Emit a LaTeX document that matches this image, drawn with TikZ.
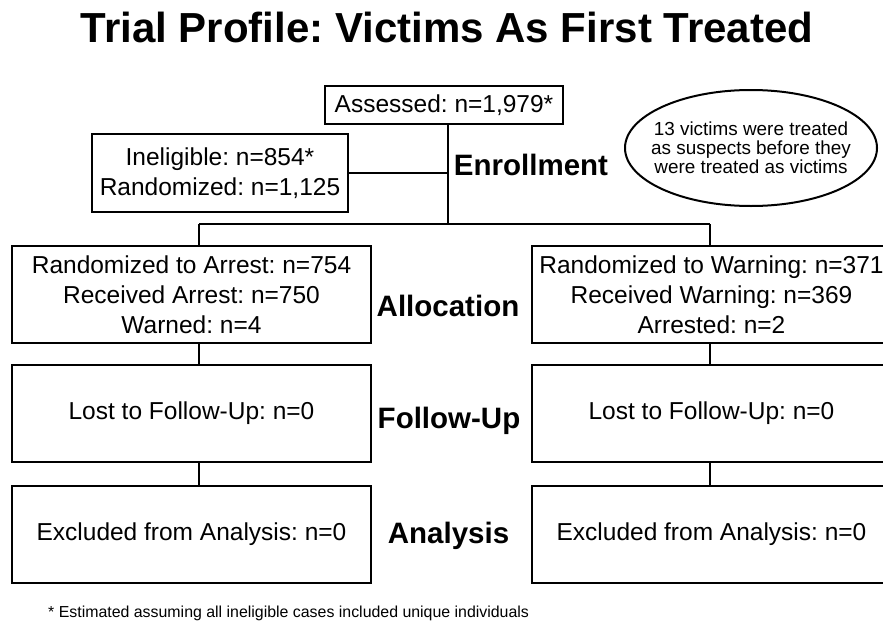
\documentclass[tikz,border=0pt]{standalone}
\usepackage{fontspec}
\setmainfont{Liberation Sans}
\usepackage{xcolor,tikz}
\usetikzlibrary{calc,positioning}
\tikzset{>=stealth}
\tikzset{box/.style={draw, line width=2pt, minimum width=359pt, minimum height=97pt, inner sep=0pt, align=center, font=\fontsize{24.5}{30}\selectfont},
  stage/.style={anchor=base, inner sep=0pt, font=\fontsize{29.5}{32}\selectfont\bfseries},
  link/.style={line width=1.5pt}}
\frenchspacing

\begin{document}
\begin{tikzpicture}[x=1pt,y=-1pt]
\useasboundingbox (0,0) rectangle (883,626);
\node[font=\fontsize{42}{46}\selectfont\bfseries] (title) at (447,27) {Trial Profile: Victims As First Treated};
\node[box, minimum width=238pt, minimum height=38pt] (assessed) at (444,105) {Assessed: n=1,979*};
\node[box, minimum width=256pt, minimum height=78pt] (inelig) at (220,173) {Ineligible: n=854*\\Randomized: n=1,125};
\node[align=center, inner sep=0pt, font=\fontsize{18.9}{19}\selectfont] (victims) at (751,148) {13 victims were treated\\as suspects before they\\were treated as victims};
\draw[line width=2pt] (victims.center) ellipse [x radius=126pt, y radius=58pt];
\node[stage] (enroll) at (531,175) {Enrollment};
\node[box] (alloc-l) at (191.5,294.5) {Randomized to Arrest: n=754\\Received Arrest: n=750\\Warned: n=4};
\node[box] (alloc-r) at (711.5,294.5) {Randomized to Warning: n=371\\Received Warning: n=369\\Arrested: n=2};
\node[stage] (alloc) at (448,316) {Allocation};
\node[box] (follow-l) at (191.5,413.5) {Lost to Follow-Up: n=0};
\node[box] (follow-r) at (711.5,413.5) {Lost to Follow-Up: n=0};
\node[stage] (follow) at (449,428) {Follow-Up};
\node[box] (excl-l) at (191.5,534.5) {Excluded from Analysis: n=0};
\node[box] (excl-r) at (711.5,534.5) {Excluded from Analysis: n=0};
\node[stage] (analysis) at (448.5,543) {Analysis};
\node[anchor=west, inner sep=0pt, font=\fontsize{15.9}{18}\selectfont] (star) at (48,613) {* Estimated assuming all ineligible cases included unique individuals};
\coordinate (split) at (448,224);
\coordinate (lsplit) at (199,224);
\coordinate (rsplit) at (710,224);
\draw[link] (assessed.south -| split) -- (split);
\draw[link] (inelig.east) -- (inelig.east -| split);
\draw[link] (lsplit) -- (rsplit);
\draw[link] (lsplit) -- (lsplit |- alloc-l.north);
\draw[link] (rsplit) -- (rsplit |- alloc-r.north);
\draw[link] (alloc-l.south -| lsplit) -- (follow-l.north -| lsplit);
\draw[link] (follow-l.south -| lsplit) -- (excl-l.north -| lsplit);
\draw[link] (alloc-r.south -| rsplit) -- (follow-r.north -| rsplit);
\draw[link] (follow-r.south -| rsplit) -- (excl-r.north -| rsplit);
\end{tikzpicture}
\end{document}
